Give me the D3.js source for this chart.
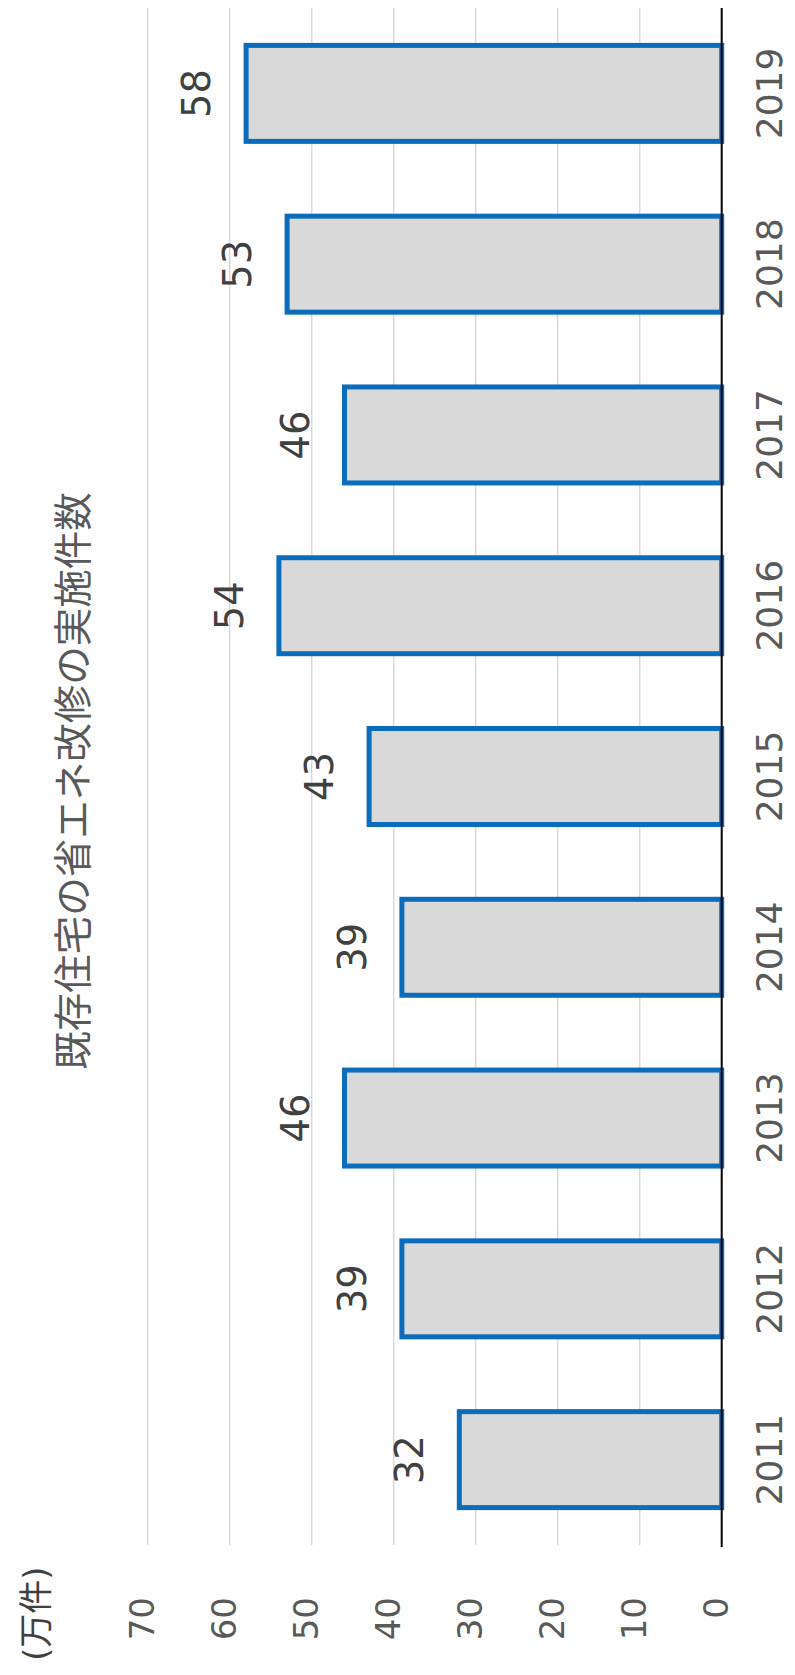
<html>

<head>
    <meta charset="utf-8">
    <style>
        body { margin: 0; background: #fff; }
    </style>
</head>

<body>
    <div id="my_dataviz"></div>
</body>

<script src="https://d3js.org/d3.v7.min.js"></script>
<script>
    // data
    var years = ["2011", "2012", "2013", "2014", "2015", "2016", "2017", "2018", "2019"];
    var counts = [32, 39, 46, 39, 43, 54, 46, 53, 58];
    var tickValues = [0, 10, 20, 30, 40, 50, 60, 70];
    var title = "既存住宅の省エネ改修の実施件数";
    var unitLabel = "(万件)";

    var W = 795, H = 1675;
    var latin = "'DejaVu Sans', 'Noto Sans CJK JP', sans-serif";
    var cjk = "'Noto Sans CJK JP', 'DejaVu Sans', sans-serif";

    var svg = d3.select("#my_dataviz")
        .append("svg")
        .attr("width", W)
        .attr("height", H);

    // the whole chart is a column chart turned a quarter turn to the left
    var g = svg.append("g")
        .attr("transform", "translate(0," + H + ") rotate(-90)");

    var x = d3.scaleBand()
        .domain(years)
        .range([130, 1667])
        .paddingInner(0.438)
        .paddingOuter(0.219);

    var y = d3.scaleLinear()
        .domain([0, 70])
        .range([721.7, 147.7]);

    // gridlines
    g.selectAll(".grid")
        .data(tickValues.filter(function (d) { return d > 0; }))
        .enter()
        .append("line")
        .attr("x1", 130)
        .attr("x2", 1667)
        .attr("y1", function (d) { return y(d); })
        .attr("y2", function (d) { return y(d); })
        .attr("stroke", "#d9d9d9")
        .attr("stroke-width", 1.5);

    // bars
    g.selectAll(".bar")
        .data(counts)
        .enter()
        .append("rect")
        .attr("x", function (d, i) { return x(years[i]); })
        .attr("y", function (d) { return y(d); })
        .attr("width", x.bandwidth())
        .attr("height", function (d) { return y(0) - y(d); })
        .attr("fill", "#d9d9d9")
        .attr("stroke", "#0b6cbb")
        .attr("stroke-width", 5);

    // baseline
    g.append("line")
        .attr("x1", 128)
        .attr("x2", 1667)
        .attr("y1", y(0))
        .attr("y2", y(0))
        .attr("stroke", "#000")
        .attr("stroke-width", 2);

    // value labels
    g.selectAll(".val")
        .data(counts)
        .enter()
        .append("text")
        .attr("x", function (d, i) { return x(years[i]) + x.bandwidth() / 2; })
        .attr("y", function (d) { return y(d) - 36; })
        .attr("text-anchor", "middle")
        .style("font-family", latin)
        .style("font-size", "38.5px")
        .style("fill", "#404040")
        .text(function (d) { return d; });

    // year labels
    var xAxis = g.append("g")
        .attr("transform", "translate(0," + y(0) + ")")
        .call(d3.axisBottom(x).tickSize(0).tickPadding(0));
    xAxis.select(".domain").remove();
    xAxis.selectAll("text")
        .attr("y", 782 - y(0))
        .attr("dy", null)
        .style("font-family", latin)
        .style("font-size", "36px")
        .style("fill", "#595959");

    // value axis labels
    var yAxis = g.append("g")
        .attr("transform", "translate(78,0)")
        .call(d3.axisLeft(y).tickValues(tickValues).tickSize(0).tickPadding(0));
    yAxis.select(".domain").remove();
    yAxis.selectAll("text")
        .attr("dy", "6px")
        .style("font-family", latin)
        .style("font-size", "34px")
        .style("fill", "#595959");

    // unit
    g.append("text")
        .attr("x", 14)
        .attr("y", 47.5)
        .style("font-family", latin)
        .style("font-size", "34px")
        .style("fill", "#404040")
        .text(unitLabel);

    // title
    g.append("text")
        .attr("x", 894)
        .attr("y", 87)
        .attr("text-anchor", "middle")
        .style("font-family", cjk)
        .style("font-size", "38.5px")
        .style("fill", "#595959")
        .text(title);
</script>

</html>
